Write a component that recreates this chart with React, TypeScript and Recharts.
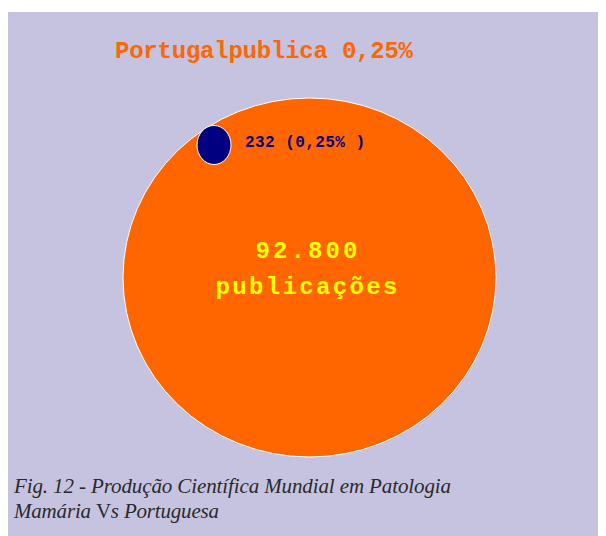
import { Pie, PieChart } from 'recharts'

// values
const regions = ['Mundial', 'Portugal']
const publications = [92800, 232]
const shares = ['100%', '0,25%']
const titleText = 'Portugalpublica 0,25%'
const captionLines = ['Fig. 12 - Produção Científica Mundial em Patologia', 'Mamária ', 'V', 's Portuguesa']

const W = 599
const H = 524
const BG = '#c6c3e1'
const ORANGE = '#ff6600'
const NAVY = '#000080'

const worldData = [{ name: regions[0], value: publications[0], share: shares[0] }]
const ptData = [{ name: regions[1], value: publications[1], share: shares[1] }]

const fmt = (n: number) => String(n).replace(/\B(?=(\d{3})+(?!\d))/g, '.')

// the figure's circles are slightly stretched, so each pie draws an ellipse
const ellipseShape = (sx: number, sy: number) => (props: any) => (
  <ellipse
    cx={props.cx}
    cy={props.cy}
    rx={props.outerRadius * sx}
    ry={props.outerRadius * sy}
    fill={props.fill}
    stroke="#ffffff"
    strokeWidth={1}
  />
)

function WorldLabel({ cx, cy, value }: any) {
  return (
    <g fontFamily="'Liberation Mono', monospace" fontWeight="bold" fontSize={24} fill="#ffff00">
      <text x={cx - 3} y={cy - 20} textAnchor="middle" textLength={102} lengthAdjust="spacing">
        {fmt(value)}
      </text>
      <text x={cx - 3} y={cy + 16} textAnchor="middle" textLength={182} lengthAdjust="spacing">
        publicações
      </text>
    </g>
  )
}

function PtLabel({ cx, cy, value, payload }: any) {
  const share = payload?.share ?? shares[1]
  return (
    <text
      x={cx + 31}
      y={cy + 2}
      fontFamily="'Liberation Mono', monospace"
      fontWeight="bold"
      fontSize={16}
      fill={NAVY}
      textLength={120}
      lengthAdjust="spacing"
    >
      {`${value} (${share} )`}
    </text>
  )
}

export default function App() {
  return (
    <div style={{ position: 'relative', width: W, height: H, margin: '4px 0 0 -1px', background: BG }}>
      <PieChart width={W} height={H} margin={{ top: 0, right: 0, bottom: 0, left: 0 }}>
        <Pie
          data={worldData}
          dataKey="value"
          nameKey="name"
          cx={302.5}
          cy={265.5}
          outerRadius={186.5}
          startAngle={90}
          endAngle={450}
          fill={ORANGE}
          stroke="#ffffff"
          shape={ellipseShape(1, 0.9625)}
          label={<WorldLabel />}
          labelLine={false}
          isAnimationActive={false}
        />
        <Pie
          data={ptData}
          dataKey="value"
          nameKey="name"
          cx={207}
          cy={133}
          outerRadius={17}
          startAngle={90}
          endAngle={450}
          fill={NAVY}
          stroke="#ffffff"
          shape={ellipseShape(1, 1.147)}
          label={<PtLabel />}
          labelLine={false}
          isAnimationActive={false}
        />
      </PieChart>
      <svg width={W} height={H} style={{ position: 'absolute', left: 0, top: 0, pointerEvents: 'none' }}>
        <text
          x={108}
          y={46}
          fontFamily="'Liberation Mono', monospace"
          fontWeight="bold"
          fontSize={24}
          fill={ORANGE}
          textLength={298}
          lengthAdjust="spacing"
        >
          {titleText}
        </text>
        <g fontFamily="'Liberation Serif', serif" fontStyle="italic" fontSize={21} fill="#2a2a2a">
          <text x={7} y={481} textLength={437} lengthAdjust="spacing">
            {captionLines[0]}
          </text>
          <text x={7} y={506} textLength={205} lengthAdjust="spacing">
            {captionLines[1]}
            <tspan fontStyle="normal">{captionLines[2]}</tspan>
            {captionLines[3]}
          </text>
        </g>
      </svg>
    </div>
  )
}
